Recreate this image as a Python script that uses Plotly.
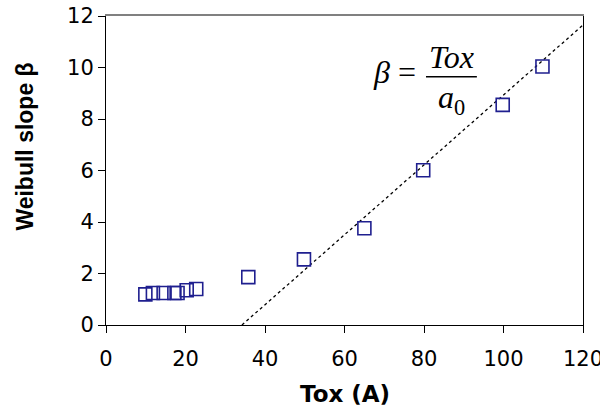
import plotly.graph_objects as go

tox = [9.9, 11.8, 14.5, 17.2, 18.0, 20.3, 22.7, 35.8, 49.8, 65.0, 79.8, 99.8, 109.8]
beta = [1.19, 1.24, 1.24, 1.24, 1.24, 1.35, 1.40, 1.86, 2.55, 3.76, 6.01, 8.55, 10.04]
fit_x = [34.2, 120.0]
fit_y = [0.0, 11.65]

x_ticks = [0, 20, 40, 60, 80, 100, 120]
y_ticks = [0, 2, 4, 6, 8, 10, 12]

fig = go.Figure()
fig.add_trace(go.Scatter(x=fit_x, y=fit_y, mode="lines",
                         line=dict(color="black", width=1.3, dash="dot"),
                         showlegend=False, hoverinfo="skip"))
fig.add_trace(go.Scatter(x=tox, y=beta, mode="markers",
                         marker=dict(symbol="square-open", size=13, color="#1f1f8f",
                                     line=dict(width=1.6, color="#1f1f8f")),
                         showlegend=False))
# empty trace so the top (frame) axis is drawn
fig.add_trace(go.Scatter(x=[None], y=[None], xaxis="x2", showlegend=False, hoverinfo="skip"))

tick_font = dict(family="DejaVu Sans, Liberation Sans, sans-serif", size=21, color="black")
fig.update_layout(
    width=600, height=414,
    margin=dict(l=106, r=17, t=16, b=89),
    paper_bgcolor="white", plot_bgcolor="white",
    font=tick_font,
    xaxis=dict(range=[0, 120], tickvals=x_ticks, ticks="outside", ticklen=7,
               tickcolor="black", showline=True, linecolor="black", linewidth=1,
               showgrid=False, zeroline=False, tickfont=tick_font, automargin=False,
               ticklabelstandoff=8, ticklabeloverflow="allow"),
    xaxis2=dict(range=[0, 120], overlaying="x", side="top", showline=True,
                linecolor="#808080", linewidth=1.5, showticklabels=False, ticks="",
                showgrid=False, zeroline=False, automargin=False),
    yaxis=dict(range=[0, 12], tickvals=y_ticks, ticks="outside", ticklen=7,
               tickcolor="black", showline=True, linecolor="black", linewidth=1,
               mirror=True,
               showgrid=False, zeroline=False, tickfont=tick_font, automargin=False,
               ticksuffix="\u2002", ticklabeloverflow="allow"),
)

# axis titles
fig.add_annotation(text="<b>Weibull slope β</b>", xref="paper", yref="paper",
                   x=-0.17, y=0.577, xanchor="center", yanchor="middle", textangle=-90,
                   showarrow=False, font=dict(family="Liberation Sans, Arial", size=23, color="black"))
fig.add_annotation(text="<b>Tox (A)</b>", xref="paper", yref="paper",
                   x=0.5, y=-0.222, xanchor="center", yanchor="middle",
                   showarrow=False, font=dict(family="DejaVu Sans, Liberation Sans", size=23, color="black"))

# equation
serif = "Liberation Serif, Times New Roman, serif"
fig.add_annotation(text="<i>β</i> =", x=72.6, y=9.83, xref="x", yref="y", showarrow=False,
                   font=dict(family=serif, size=32, color="black"), xanchor="center", yanchor="middle")
fig.add_annotation(text="<i>Tox</i>", x=86.9, y=10.42, xref="x", yref="y", showarrow=False,
                   font=dict(family=serif, size=32, color="black"), xanchor="center", yanchor="middle")
fig.add_annotation(text="<i>a</i><sub>0</sub>", x=86.9, y=8.74, xref="x", yref="y", showarrow=False,
                   font=dict(family=serif, size=32, color="black"), xanchor="center", yanchor="middle")
fig.add_shape(type="line", xref="x", yref="y", x0=80.5, x1=93.3, y0=9.64, y1=9.64,
              line=dict(color="black", width=1.5))

fig.write_html("out.html", config={"displayModeBar": False},
               post_script="document.body.style.margin='0';document.body.style.overflow='hidden';")
